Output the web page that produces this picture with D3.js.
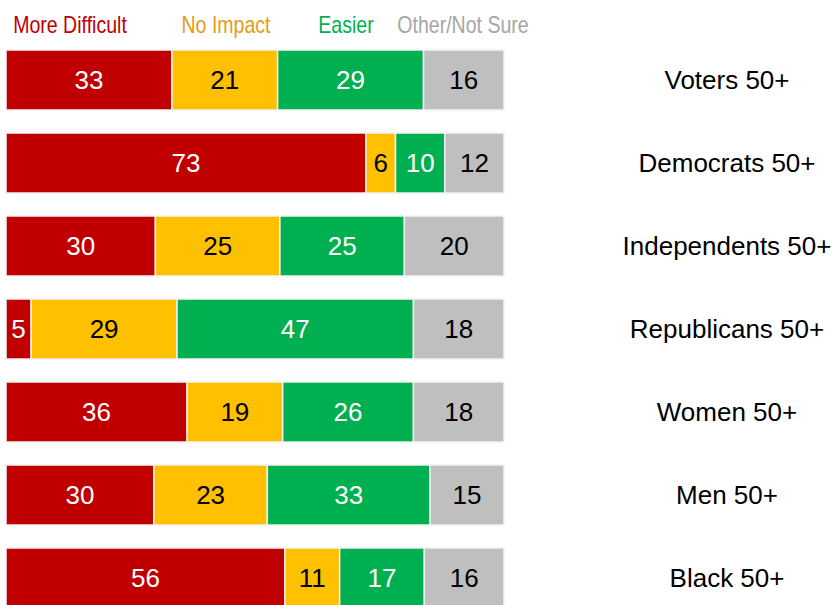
<!DOCTYPE html>
<html>
<head>
<meta charset="utf-8">
<script src="https://cdn.jsdelivr.net/npm/d3@7"></script>
<style>
body { margin: 0; background: #fff; }
text { font-family: "Liberation Sans", Arial, sans-serif; }
</style>
</head>
<body>
<svg id="chart"></svg>
<script>
// data
var groups = ["Voters 50+", "Democrats 50+", "Independents 50+", "Republicans 50+", "Women 50+", "Men 50+", "Black 50+"];
var answers = ["More Difficult", "No Impact", "Easier", "Other/Not Sure"];
var moreDifficult = [33, 73, 30, 5, 36, 30, 56];
var noImpact = [21, 6, 25, 29, 19, 23, 11];
var easier = [29, 10, 25, 47, 26, 33, 17];
var otherNotSure = [16, 12, 20, 18, 18, 15, 16];

var barColors = ["#c00000", "#ffc000", "#00b050", "#bfbfbf"];
var legendColors = ["#c00000", "#e59c14", "#00b050", "#a6a6a6"];
var valueColors = ["#fff", "#000", "#fff", "#000"];
var legendX = [70, 226, 346, 463];

var width = 832, height = 605;
var svg = d3.select("#chart").attr("width", width).attr("height", height);

var rows = groups.map(function(g, i){
    return { group: g, values: [moreDifficult[i], noImpact[i], easier[i], otherNotSure[i]] };
});

// stack each row, normalised to its own total so all bars fill the same width
var stacked = rows.map(function(r){
    var total = d3.sum(r.values), acc = 0;
    return r.values.map(function(v, k){
        var seg = { group: r.group, k: k, v: v, x0: acc / total, x1: (acc + v) / total };
        acc += v;
        return seg;
    });
});

var x = d3.scaleLinear().domain([0, 1]).range([6, 504]);
var y = d3.scaleBand().domain(groups).range([50 - 11.5, 50 - 11.5 + 83 * groups.length]).paddingInner(23 / 83).paddingOuter(11.5 / 83);

// legend (condensed look, squeezed horizontally)
svg.append("g").selectAll("text")
    .data(answers)
    .enter()
    .append("text")
    .attr("transform", function(d, i){ return "translate(" + legendX[i] + ",33) scale(0.85,1)"; })
    .attr("text-anchor", "middle")
    .style("font-size", "23px")
    .style("fill", function(d, i){ return legendColors[i]; })
    .text(function(d){ return d; });

var rowG = svg.append("g").selectAll("g")
    .data(stacked)
    .enter()
    .append("g")
    .attr("transform", function(d){ return "translate(0," + y(d[0].group) + ")"; });

rowG.selectAll("rect")
    .data(function(d){ return d; })
    .enter()
    .append("rect")
    .attr("x", function(d){ return x(d.x0); })
    .attr("width", function(d){ return x(d.x1) - x(d.x0); })
    .attr("y", 0)
    .attr("height", y.bandwidth())
    .attr("fill", function(d){ return barColors[d.k]; })
    .attr("stroke", "#f2f2f2")
    .attr("stroke-width", 1.5);

rowG.selectAll("text")
    .data(function(d){ return d; })
    .enter()
    .append("text")
    .attr("x", function(d){ return (x(d.x0) + x(d.x1)) / 2; })
    .attr("y", y.bandwidth() / 2)
    .attr("dy", "0.36em")
    .attr("text-anchor", "middle")
    .style("font-size", "26px")
    .style("fill", function(d){ return valueColors[d.k]; })
    .text(function(d){ return d.v; });

// group labels
svg.append("g").selectAll("text")
    .data(groups)
    .enter()
    .append("text")
    .attr("x", 727)
    .attr("y", function(d){ return y(d) + y.bandwidth() / 2; })
    .attr("dy", "0.36em")
    .attr("text-anchor", "middle")
    .style("font-size", "26px")
    .style("fill", "#000")
    .text(function(d){ return d; });
</script>
</body>
</html>
